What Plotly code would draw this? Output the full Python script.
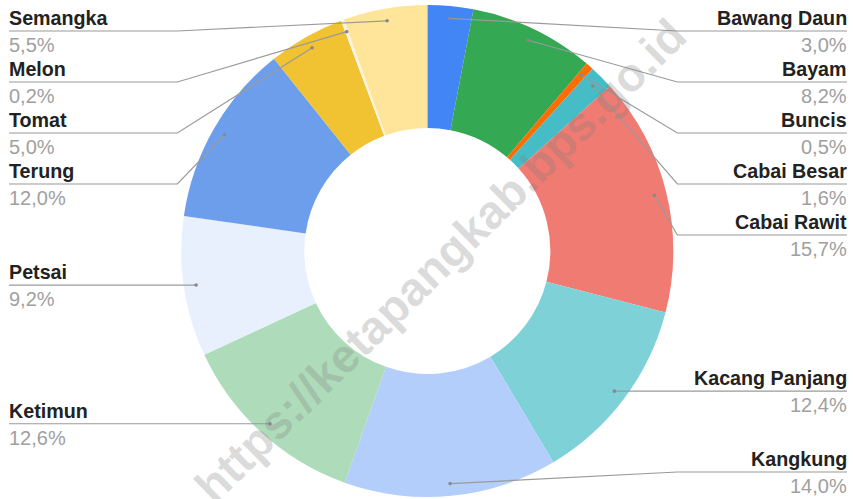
import math
import plotly.graph_objects as go

# ---- data ----
labels = ["Bawang Daun", "Bayam", "Buncis", "Cabai Besar", "Cabai Rawit",
          "Kacang Panjang", "Kangkung", "Ketimun", "Petsai", "Terung",
          "Tomat", "Melon", "Semangka"]
values = [3.0, 8.2, 0.5, 1.6, 15.7, 12.4, 14.0, 12.6, 9.2, 12.0, 5.0, 0.2, 5.5]
colors = ["#4285F4", "#34A853", "#FF6D01", "#46BDC6", "#F07B72",
          "#7ED1D7", "#B3CEFB", "#AEDCBA", "#E8F0FE", "#6D9EEB",
          "#F1C232", "#FDF3E7", "#FFE599"]
watermark = "https://ketapangkab.bps.go.id"

# ---- layout constants ----
W, H = 853, 499
DX = [0.002, 1.0]
DY = [2 / H, 494 / H]
HOLE = 0.5
FONT = "Liberation Sans, Arial, sans-serif"


def px(x):
    return x / W


def py(y):
    return 1 - y / H


fig = go.Figure(go.Pie(
    labels=labels, values=values, sort=False, direction="clockwise",
    rotation=0, hole=HOLE, textinfo="none", showlegend=False,
    marker=dict(colors=colors, line=dict(width=0)),
    domain=dict(x=DX, y=DY), hoverinfo="label+percent",
))

# pie geometry (pixels, y down)
cx = (DX[0] + DX[1]) / 2 * W
cy = H - (DY[0] + DY[1]) / 2 * H
R = min((DX[1] - DX[0]) * W, (DY[1] - DY[0]) * H) / 2
ra = 0.95 * R
total = sum(values)

items = []
cum = 0.0
for lab, v in zip(labels, values):
    mid = (cum + v / 2) / total * 2 * math.pi
    cum += v
    ax = cx + ra * math.sin(mid)
    ay = cy - ra * math.cos(mid)
    items.append(dict(label=lab, value=v, ax=ax, ay=ay,
                      side="right" if mid < math.pi else "left"))

GAP, TOP, BOT = 51, 31, 472
for side in ("right", "left"):
    grp = sorted([it for it in items if it["side"] == side], key=lambda d: d["ay"])
    ys = []
    prev = TOP - GAP
    for it in grp:
        y = max(it["ay"], prev + GAP, TOP)
        ys.append(y)
        prev = y
    nxt = BOT + GAP
    for i in range(len(grp) - 1, -1, -1):
        ys[i] = min(ys[i], nxt - GAP)
        nxt = ys[i]
    for it, y in zip(grp, ys):
        it["ly"] = y

shapes = []
annotations = []
LINE = "#9a9a9a"
for it in items:
    ly = it["ly"]
    if it["side"] == "left":
        x_line, x_text, x_elbow, anchor = 9, 7, cx - 250, "left"
    else:
        x_line, x_text, x_elbow, anchor = 847, 849, cx + 250, "right"
    path = (f"M {px(x_line)},{py(ly)} L {px(x_elbow)},{py(ly)} "
            f"L {px(it['ax'])},{py(it['ay'])}")
    shapes.append(dict(type="path", path=path, xref="paper", yref="paper",
                       line=dict(color=LINE, width=1.2), layer="above"))
    rdot = 1.8
    shapes.append(dict(type="circle", xref="paper", yref="paper",
                       x0=px(it["ax"] - rdot), x1=px(it["ax"] + rdot),
                       y0=py(it["ay"] + rdot), y1=py(it["ay"] - rdot),
                       fillcolor="#888888", line=dict(width=0), layer="above"))
    annotations.append(dict(
        text=it["label"], x=px(x_text), y=py(ly - 13), xref="paper", yref="paper",
        xanchor=anchor, yanchor="middle", showarrow=False,
        font=dict(family=FONT, size=19.7, color="#222222", weight="bold")))
    annotations.append(dict(
        text=f"{it['value']:.1f}".replace(".", ",") + "%",
        x=px(x_text), y=py(ly + 14), xref="paper", yref="paper",
        xanchor=anchor, yanchor="middle", showarrow=False,
        font=dict(family=FONT, size=20, color="#a0a0a0")))

annotations.append(dict(
    text=watermark, x=px(440), y=py(260), xref="paper", yref="paper",
    xanchor="center", yanchor="middle", showarrow=False, textangle=-44.5,
    font=dict(family=FONT, size=47, color="rgba(128,128,128,0.28)", weight="bold")))

fig.update_layout(
    width=W, height=H, margin=dict(l=0, r=0, t=0, b=0, pad=0),
    paper_bgcolor="white", plot_bgcolor="white",
    shapes=shapes, annotations=annotations, showlegend=False,
)

fig.write_html(
    "out.html",
    config={"displayModeBar": False},
    post_script="document.body.style.margin='0';document.body.style.padding='0';",
)
